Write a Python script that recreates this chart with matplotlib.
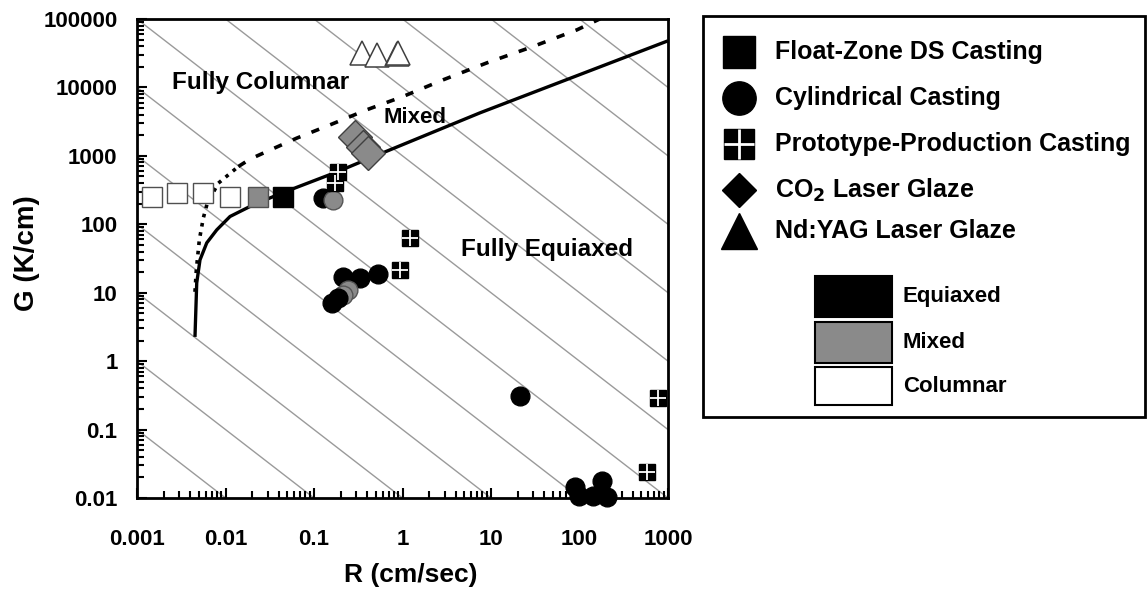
import matplotlib
matplotlib.use("Agg")
import matplotlib.pyplot as plt
from matplotlib.patches import Rectangle
from matplotlib.ticker import FixedLocator, FixedFormatter, LogLocator, NullFormatter

plt.rcParams['font.family'] = ['Liberation Sans', 'DejaVu Sans']
plt.rcParams['font.weight'] = 'bold'

# ---------------- data ----------------
x_ticks = [0.001, 0.01, 0.1, 1, 10, 100, 1000]
x_tick_labels = ["0.001", "0.01", "0.1", "1", "10", "100", "1000"]
y_ticks = [0.01, 0.1, 1, 10, 100, 1000, 10000, 100000]
y_tick_labels = ["0.01", "0.1", "1", "10", "100", "1000", "10000", "100000"]

# constant cooling-rate guide lines, G*R = 10**k
cooling_exponents = list(range(-5, 9))

# Float-Zone DS Casting (squares)
fz_R = [0.00147, 0.00281, 0.00561, 0.01125, 0.0231, 0.045]
fz_G = [254, 291, 285, 249, 254, 254]
fz_type = ["Columnar", "Columnar", "Columnar", "Columnar", "Mixed", "Equiaxed"]

# Cylindrical Casting (circles)
cyl_R = [0.126, 0.164, 0.533, 0.331, 0.214, 0.244, 0.214, 0.188, 0.158,
         21.3, 89, 98.6, 143, 178, 203]
cyl_G = [243, 228, 18.8, 16.3, 17.2, 11, 9.3, 8.3, 7.0,
         0.31, 0.0146, 0.0107, 0.0107, 0.0177, 0.0104]
cyl_type = ["Equiaxed", "Mixed", "Equiaxed", "Equiaxed", "Equiaxed", "Mixed",
            "Mixed", "Equiaxed", "Equiaxed", "Equiaxed", "Equiaxed", "Equiaxed",
            "Equiaxed", "Equiaxed", "Equiaxed"]

# Prototype-Production Casting (quartered squares)
proto_R = [0.173, 0.188, 1.22, 0.937, 776, 574]
proto_G = [399, 590, 62.6, 21.5, 0.287, 0.0238]

# CO2 Laser Glaze (diamonds, mixed)
co2_R = [0.29, 0.36, 0.41]
co2_G = [1915, 1368, 1097]

# Nd:YAG Laser Glaze (triangles, columnar)
yag_R = [0.346, 0.511, 0.87, 0.897]
yag_G = [31700, 30000, 31000, 31700]

# boundary curves
solid_R = [0.00452, 0.00473, 0.00515, 0.00614, 0.00796, 0.01125, 0.0189,
           0.0319, 0.0536, 0.182, 0.464, 7.5, 1000]
solid_G = [2.26, 13.9, 30.2, 53.5, 82.8, 130, 182, 243, 318, 583, 967, 4250, 48000]

dotted_R = [0.00452, 0.00468, 0.00506, 0.00561, 0.00622, 0.0083, 0.01397]
dotted_G = [10.3, 21.5, 59, 123, 203, 399, 698]

dashed_R = [0.01397, 0.0189, 0.0292, 0.0638, 0.152, 0.394, 1.01, 2.87, 9.02,
            29.8, 93.8, 171]
dashed_G = [698, 895, 1156, 1815, 2840, 4710, 7360, 12900, 22900, 39600,
            69500, 100700]

region_labels = ["Fully Columnar", "Mixed", "Fully Equiaxed"]
region_R = [0.0252, 1.38, 43]
region_G = [11700, 3600, 42.3]

legend_markers = ["Float-Zone DS Casting", "Cylindrical Casting",
                  "Prototype-Production Casting", "CO$_2$ Laser Glaze",
                  "Nd:YAG Laser Glaze"]
legend_fills = ["Equiaxed", "Mixed", "Columnar"]

fill = {"Equiaxed": "black", "Mixed": "#8a8a8a", "Columnar": "white"}
edge = {"Equiaxed": "black", "Mixed": "#505050", "Columnar": "#505050"}

# ---------------- figure ----------------
W, H = 1147, 591
fig = plt.figure(figsize=(W / 100, H / 100), dpi=100)
L, R_, T, B = 137, 668, 19, 498
ax = fig.add_axes([L / W, 1 - B / H, (R_ - L) / W, (B - T) / H])
ax.set_xscale("log")
ax.set_yscale("log")
ax.set_xlim(1e-3, 1e3)
ax.set_ylim(1e-2, 1e5)

# guide lines
for k in cooling_exponents:
    c = 10.0 ** k
    ax.plot([1e-3, 1e3], [c / 1e-3, c / 1e3], color="#9a9a9a", lw=1.0, zorder=1)

# boundaries
ax.plot(solid_R, solid_G, color="black", lw=2.4, zorder=2, solid_capstyle="butt")
ax.plot(dotted_R, dotted_G, color="black", lw=2.6, ls=(0, (1.0, 1.6)), zorder=2)
ax.plot(dashed_R, dashed_G, color="black", lw=2.6, ls=(0, (2.3, 3.3)), zorder=2)

# data points
for r, g, t in zip(fz_R, fz_G, fz_type):
    ax.plot(r, g, "s", ms=14.5, mfc=fill[t], mec=edge[t], mew=1.0, zorder=5,
            clip_on=False)
for r, g, t in zip(cyl_R, cyl_G, cyl_type):
    ax.plot(r, g, "o", ms=13.5, mfc=fill[t],
            mec="black" if t == "Equiaxed" else "#555555",
            mew=1.0, zorder=5, clip_on=False)
for r, g in zip(proto_R, proto_G):
    ax.plot(r, g, "s", ms=12, mfc="black", mec="black", mew=1.0, zorder=6, clip_on=False)
    ax.plot(r, g, "+", ms=12, mec="white", mew=1.3, zorder=7, clip_on=False)
for r, g in zip(co2_R, co2_G):
    ax.plot(r, g, "D", ms=17, mfc=fill["Mixed"], mec="#404040", mew=1.0, zorder=5)
for r, g in zip(yag_R, yag_G):
    ax.plot(r, g, "^", ms=17, mfc="white", mec="#404040", mew=1.1, zorder=5)

# region labels
for lab, r, g, fs in zip(region_labels, region_R, region_G, [17.5, 16, 17.5]):
    ax.text(r, g, lab, fontsize=fs, fontweight="bold",
            ha="center", va="center", zorder=8)

# axes styling
for s in ax.spines.values():
    s.set_linewidth(2.0)
ax.xaxis.set_major_locator(FixedLocator(x_ticks))
ax.xaxis.set_major_formatter(FixedFormatter(x_tick_labels))
ax.yaxis.set_major_locator(FixedLocator(y_ticks))
ax.yaxis.set_major_formatter(FixedFormatter(y_tick_labels))
ax.xaxis.set_minor_locator(LogLocator(base=10, subs=range(2, 10), numticks=20))
ax.yaxis.set_minor_locator(LogLocator(base=10, subs=range(2, 10), numticks=20))
ax.xaxis.set_minor_formatter(NullFormatter())
ax.yaxis.set_minor_formatter(NullFormatter())
ax.tick_params(which="both", direction="in", top=False, right=False, width=1.5)
ax.tick_params(which="major", length=7)
ax.tick_params(which="minor", length=5)
ax.tick_params(axis="x", which="major", labelsize=16, pad=22)
ax.tick_params(axis="y", which="major", labelsize=16, pad=14)
for lab in ax.get_xticklabels() + ax.get_yticklabels():
    lab.set_fontweight("bold")

ax.set_xlabel("R (cm/sec)", fontsize=19, fontweight="bold")
ax.set_ylabel("G (K/cm)", fontsize=20, fontweight="bold")
ax.xaxis.label.set_verticalalignment("center")
ax.yaxis.label.set_verticalalignment("center")
ax.xaxis.set_label_coords((411 - L) / (R_ - L), -(575 - B) / (B - T))
ax.yaxis.set_label_coords(-(137 - 27) / (R_ - L), (B - 253) / (B - T))

# ---------------- legend (drawn in pixel space) ----------------
lax = fig.add_axes([0, 0, 1, 1], facecolor="none")
lax.set_xlim(0, W)
lax.set_ylim(H, 0)
lax.axis("off")
lax.add_patch(Rectangle((703, 16), 442, 401, fill=False, ec="black", lw=2.0))

row_y = [52, 98, 144, 190, 231]
mx, tx = 739, 775
lax.plot(mx, row_y[0], "s", ms=23, mfc="black", mec="black")
lax.plot(mx, row_y[1], "o", ms=24, mfc="black", mec="black")
lax.plot(mx, row_y[2], "s", ms=22, mfc="black", mec="black")
lax.plot(mx, row_y[2], "+", ms=22, mec="white", mew=2.0)
lax.plot(mx, row_y[3], "D", ms=17, mfc="black", mec="black")
lax.plot(mx, row_y[4], "^", ms=26, mfc="black", mec="black")
for y, lab in zip(row_y, legend_markers):
    lax.text(tx, y, lab, fontsize=18, fontweight="bold", ha="left", va="center")

box_y = [(276, 317), (322, 363), (367, 405)]
for (y0, y1), lab in zip(box_y, legend_fills):
    lax.add_patch(Rectangle((815, y0), 77, y1 - y0, fc=fill[lab], ec="black", lw=1.5))
    lax.text(903, (y0 + y1) / 2, lab, fontsize=16, fontweight="bold",
             ha="left", va="center")

fig.savefig("out.png", dpi=100)
